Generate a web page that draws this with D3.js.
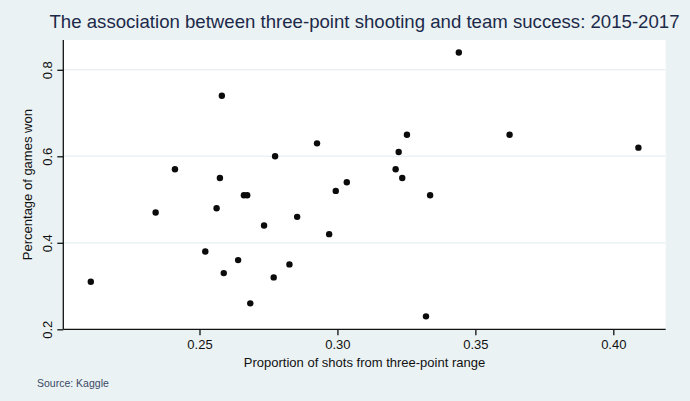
<!DOCTYPE html>
<html>
<head>
<meta charset="utf-8">
<script src="https://cdn.jsdelivr.net/npm/d3@7"></script>
<style>
  html, body { margin: 0; padding: 0; background: #eaf2f3; }
  svg { display: block; font-family: "Liberation Sans", Arial, Helvetica, sans-serif; }
</style>
</head>
<body>
<svg id="chart" width="690" height="401"></svg>
<script>
// Data
const threePointShare = [
  0.2106, 0.2341, 0.2411, 0.2521, 0.2562, 0.2574, 0.2588, 0.2640, 0.2661, 0.2673,
  0.2684, 0.2734, 0.2774, 0.2769, 0.2826, 0.2854, 0.2926, 0.2970, 0.2994, 0.3034,
  0.3222, 0.3211, 0.3235, 0.3336, 0.3321, 0.4091, 0.2581, 0.3440, 0.3252, 0.3624
];
const winPct = [
  0.31, 0.47, 0.57, 0.38, 0.48, 0.55, 0.33, 0.36, 0.51, 0.51,
  0.26, 0.44, 0.60, 0.32, 0.35, 0.46, 0.63, 0.42, 0.52, 0.54,
  0.61, 0.57, 0.55, 0.51, 0.23, 0.62, 0.74, 0.84, 0.65, 0.65
];
const xTicks = [0.25, 0.30, 0.35, 0.40];
const yTicks = [0.2, 0.4, 0.6, 0.8];
const titleText = "The association between three-point shooting and team success: 2015-2017";
const xLabel = "Proportion of shots from three-point range";
const yLabel = "Percentage of games won";
const noteText = "Source: Kaggle";

const svg = d3.select("#chart");
const W = 690, H = 401;
const plot = { left: 63.3, right: 665.7, top: 40, bottom: 329.3 };

svg.append("rect").attr("width", W).attr("height", H).attr("fill", "#eaf2f3");

// scales calibrated so ticks land where the reference shows them
const x = d3.scaleLinear().domain([0.25, 0.40]).range([199.5, 613.3]);
const y = d3.scaleLinear().domain([0.2, 0.8]).range([329.3, 69.8]);

// plot region
svg.append("rect")
  .attr("x", plot.left).attr("y", plot.top)
  .attr("width", plot.right - plot.left).attr("height", plot.bottom - plot.top)
  .attr("fill", "#ffffff");

// gridlines
svg.append("g").selectAll("line")
  .data(yTicks.filter(d => d > 0.2))
  .join("line")
  .attr("x1", plot.left).attr("x2", plot.right)
  .attr("y1", d => y(d)).attr("y2", d => y(d))
  .attr("stroke", "#eaf2f3").attr("stroke-width", 1.5);

// x axis
const xAxis = svg.append("g")
  .attr("transform", `translate(0,${plot.bottom})`)
  .call(d3.axisBottom(x).tickValues(xTicks).tickFormat(d3.format(".2f")).tickSizeOuter(0).tickSize(6).tickPadding(4));
xAxis.select(".domain").attr("d", `M${plot.left},0H${plot.right}`).attr("stroke", "#111").attr("stroke-width", 1.3);
xAxis.selectAll(".tick line").attr("stroke", "#111").attr("stroke-width", 1.3);
xAxis.selectAll(".tick text").attr("font-size", 13).attr("fill", "#111")
  .attr("font-family", "Liberation Sans, Arial, sans-serif");

// y axis
const yAxis = svg.append("g")
  .attr("transform", `translate(${plot.left},0)`)
  .call(d3.axisLeft(y).tickValues(yTicks).tickFormat(d3.format(".1f")).tickSizeOuter(0).tickSize(6));
yAxis.select(".domain").attr("d", `M0,${plot.top}V${plot.bottom}`).attr("stroke", "#111").attr("stroke-width", 1.3);
yAxis.selectAll(".tick line").attr("stroke", "#111").attr("stroke-width", 1.3);
yAxis.selectAll(".tick text")
  .attr("font-size", 13).attr("fill", "#111")
  .attr("font-family", "Liberation Sans, Arial, sans-serif")
  .attr("x", null).attr("dy", null)
  .attr("text-anchor", "middle")
  .attr("transform", "translate(-11,0) rotate(-90)");

// points
svg.append("g").selectAll("circle")
  .data(threePointShare.map((v, i) => [v, winPct[i]]))
  .join("circle")
  .attr("cx", d => x(d[0]))
  .attr("cy", d => y(d[1]))
  .attr("r", 3.2)
  .attr("fill", "#0b0b0b");

// title
svg.append("text")
  .attr("x", (plot.left + plot.right) / 2).attr("y", 28.3)
  .attr("text-anchor", "middle")
  .attr("font-size", 18.5).attr("fill", "#1c2a4a")
  .attr("textLength", 630).attr("lengthAdjust", "spacingAndGlyphs")
  .text(titleText);

// axis titles
svg.append("text")
  .attr("x", (plot.left + plot.right) / 2).attr("y", 366.5)
  .attr("text-anchor", "middle")
  .attr("font-size", 13).attr("fill", "#111")
  .text(xLabel);

svg.append("text")
  .attr("transform", `translate(31.5,${(plot.top + plot.bottom) / 2}) rotate(-90)`)
  .attr("text-anchor", "middle")
  .attr("font-size", 13).attr("fill", "#111")
  .text(yLabel);

// note
svg.append("text")
  .attr("x", 37).attr("y", 386.5)
  .attr("font-size", 10.5).attr("fill", "#3b4866")
  .text(noteText);
</script>
</body>
</html>
